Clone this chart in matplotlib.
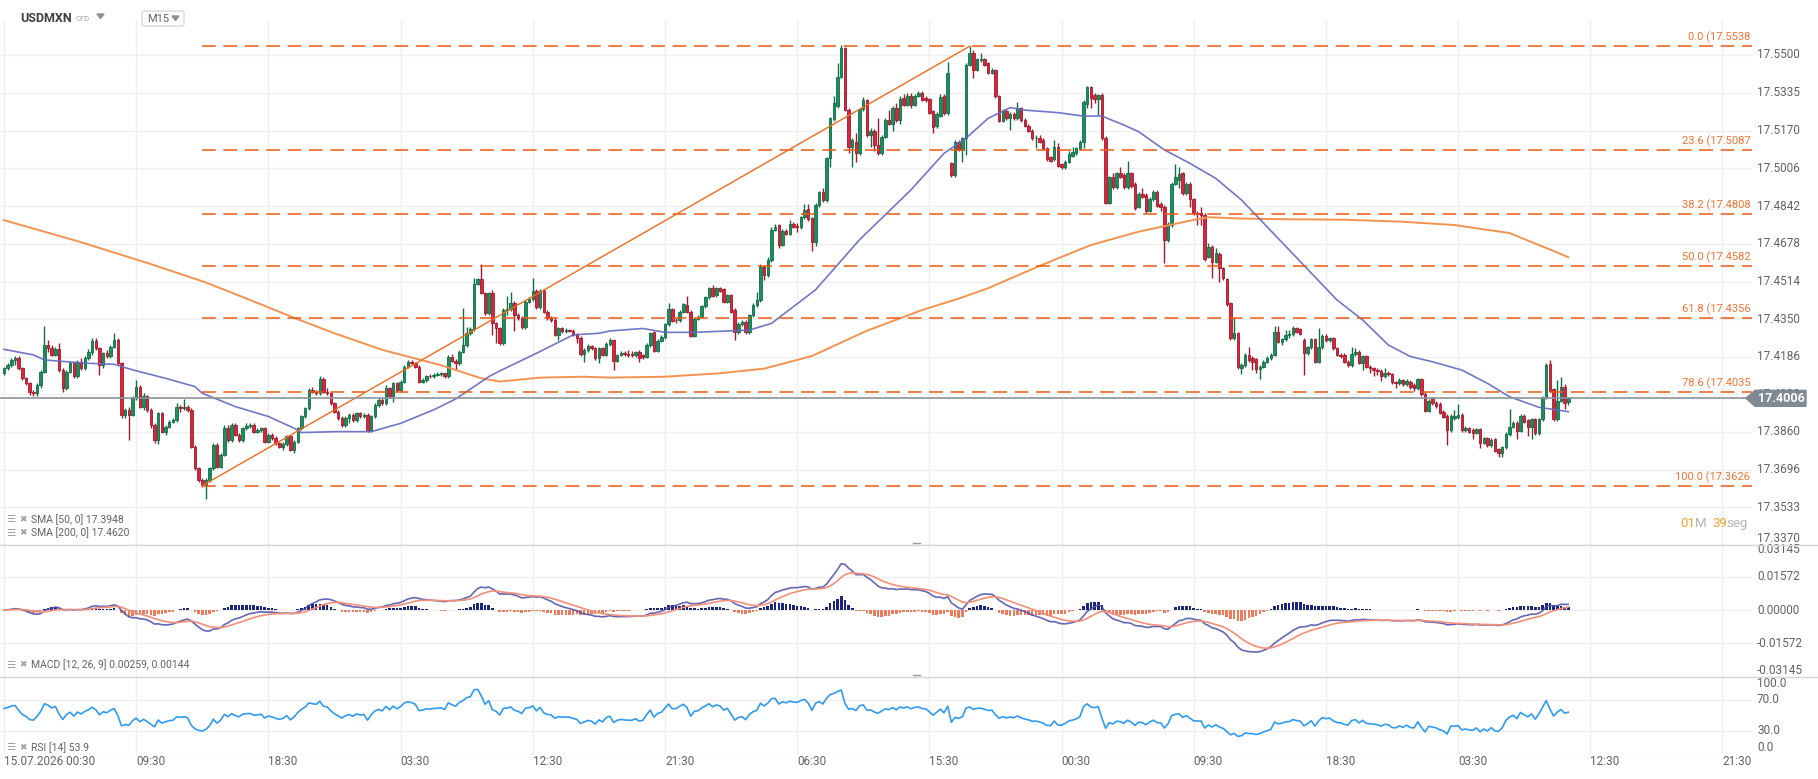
import matplotlib.pyplot as plt
import numpy as np
from matplotlib.collections import LineCollection, PatchCollection
from matplotlib.patches import Rectangle, Polygon, FancyBboxPatch

plt.rcParams['font.family'] = ['Roboto', 'DejaVu Sans']

# ---- USDMXN M15 candles ----
opens = [
    17.4115, 17.4137, 17.4151, 17.4173, 17.4180, 17.4137, 17.4093, 17.4072, 17.4035, 17.4028,
    17.4064, 17.4122, 17.4238, 17.4224, 17.4195, 17.4219, 17.4130, 17.4050, 17.4122, 17.4159,
    17.4101, 17.4166, 17.4137, 17.4180, 17.4209, 17.4257, 17.4224, 17.4151, 17.4202, 17.4188,
    17.4231, 17.4260, 17.4159, 17.3934, 17.3956, 17.3934, 17.4006, 17.4054, 17.3970, 17.4014,
    17.3956, 17.3890, 17.3825, 17.3941, 17.3861, 17.3883, 17.3905, 17.3912, 17.3970, 17.3963,
    17.3970, 17.3956, 17.3796, 17.3702, 17.3651, 17.3629, 17.3651, 17.3702, 17.3803, 17.3709,
    17.3760, 17.3876, 17.3825, 17.3890, 17.3847, 17.3825, 17.3876, 17.3886, 17.3890, 17.3861,
    17.3866, 17.3876, 17.3818, 17.3847, 17.3832, 17.3811, 17.3796, 17.3808, 17.3840, 17.3782,
    17.3818, 17.3876, 17.3927, 17.3963, 17.4043, 17.4035, 17.4028, 17.4090, 17.4035, 17.4030,
    17.3984, 17.3948, 17.3919, 17.3890, 17.3919, 17.3934, 17.3912, 17.3941, 17.3927, 17.3934,
    17.3866, 17.3927, 17.3977, 17.3999, 17.3984, 17.4050, 17.4014, 17.4072, 17.4043, 17.4079,
    17.4144, 17.4166, 17.4159, 17.4144, 17.4079, 17.4086, 17.4103, 17.4101, 17.4108, 17.4112,
    17.4115, 17.4103, 17.4185, 17.4170, 17.4159, 17.4209, 17.4238, 17.4289, 17.4306, 17.4504,
    17.4524, 17.4466, 17.4376, 17.4463, 17.4333, 17.4311, 17.4245, 17.4391, 17.4395, 17.4422,
    17.4369, 17.4354, 17.4315, 17.4427, 17.4437, 17.4475, 17.4402, 17.4475, 17.4383, 17.4354,
    17.4347, 17.4282, 17.4311, 17.4299, 17.4303, 17.4301, 17.4282, 17.4267, 17.4199, 17.4217,
    17.4235, 17.4224, 17.4180, 17.4224, 17.4195, 17.4243, 17.4259, 17.4170, 17.4194, 17.4204,
    17.4197, 17.4200, 17.4193, 17.4207, 17.4196, 17.4187, 17.4238, 17.4293, 17.4213, 17.4257,
    17.4271, 17.4329, 17.4393, 17.4348, 17.4346, 17.4383, 17.4412, 17.4383, 17.4278, 17.4352,
    17.4361, 17.4407, 17.4445, 17.4484, 17.4455, 17.4484, 17.4481, 17.4426, 17.4455, 17.4390,
    17.4293, 17.4329, 17.4339, 17.4293, 17.4368, 17.4412, 17.4433, 17.4579, 17.4543, 17.4609,
    17.4739, 17.4758, 17.4674, 17.4735, 17.4722, 17.4765, 17.4756, 17.4751, 17.4794, 17.4829,
    17.4790, 17.4688, 17.4848, 17.4903, 17.4867, 17.5051, 17.5220, 17.5276, 17.5406, 17.5529,
    17.5261, 17.5101, 17.5123, 17.5072, 17.5264, 17.5302, 17.5152, 17.5170, 17.5109, 17.5072,
    17.5145, 17.5218, 17.5200, 17.5268, 17.5215, 17.5312, 17.5283, 17.5322, 17.5283, 17.5322,
    17.5334, 17.5312, 17.5307, 17.5254, 17.5189, 17.5235, 17.5322, 17.5247, 17.5029, 17.4978,
    17.5123, 17.5087, 17.5138, 17.5457, 17.5510, 17.5435, 17.5476, 17.5481, 17.5464, 17.5423,
    17.5435, 17.5321, 17.5214, 17.5258, 17.5224, 17.5243, 17.5224, 17.5268, 17.5217, 17.5191,
    17.5171, 17.5137, 17.5140, 17.5130, 17.5094, 17.5054, 17.5047, 17.5101, 17.5025, 17.5011,
    17.5036, 17.5060, 17.5072, 17.5094, 17.5123, 17.5285, 17.5359, 17.5326, 17.5307, 17.5326,
    17.5140, 17.4857, 17.4968, 17.4924, 17.4985, 17.4978, 17.4924, 17.4985, 17.4939, 17.4840,
    17.4895, 17.4891, 17.4823, 17.4872, 17.4905, 17.4851, 17.4840, 17.4695, 17.4760, 17.4939,
    17.4956, 17.4985, 17.4898, 17.4939, 17.4872, 17.4814, 17.4811, 17.4804, 17.4623, 17.4666,
    17.4601, 17.4634, 17.4572, 17.4524, 17.4420, 17.4267, 17.4289, 17.4137, 17.4151, 17.4195,
    17.4180, 17.4176, 17.4132, 17.4144, 17.4166, 17.4180, 17.4195, 17.4296, 17.4253, 17.4263,
    17.4282, 17.4284, 17.4311, 17.4306, 17.4260, 17.4205, 17.4228, 17.4263, 17.4166, 17.4228,
    17.4277, 17.4260, 17.4267, 17.4224, 17.4195, 17.4195, 17.4166, 17.4151, 17.4199, 17.4209,
    17.4161, 17.4188, 17.4144, 17.4137, 17.4130, 17.4125, 17.4103, 17.4118, 17.4112, 17.4076,
    17.4072, 17.4085, 17.4067, 17.4078, 17.4064, 17.4049, 17.4088, 17.4025, 17.3952, 17.4006,
    17.3987, 17.3981, 17.3948, 17.3929, 17.3868, 17.3919, 17.3925, 17.3933, 17.3868, 17.3875,
    17.3868, 17.3856, 17.3871, 17.3813, 17.3832, 17.3803, 17.3827, 17.3784, 17.3769, 17.3793,
    17.3851, 17.3883, 17.3900, 17.3865, 17.3929, 17.3910, 17.3883, 17.3914, 17.3854, 17.3914,
    17.4010, 17.4155, 17.4045, 17.3914, 17.3996, 17.4054, 17.3991,
]
highs = [
    17.4144, 17.4159, 17.4180, 17.4190, 17.4188, 17.4144, 17.4098, 17.4079, 17.4043, 17.4072,
    17.4130, 17.4321, 17.4260, 17.4238, 17.4231, 17.4248, 17.4137, 17.4130, 17.4166, 17.4166,
    17.4173, 17.4180, 17.4188, 17.4219, 17.4267, 17.4267, 17.4231, 17.4209, 17.4215, 17.4238,
    17.4289, 17.4267, 17.4166, 17.3963, 17.3970, 17.4014, 17.4086, 17.4064, 17.4028, 17.4021,
    17.3963, 17.3897, 17.3948, 17.3948, 17.3890, 17.3912, 17.3920, 17.3984, 17.3977, 17.4003,
    17.3977, 17.3963, 17.3803, 17.3709, 17.3658, 17.3658, 17.3709, 17.3811, 17.3811, 17.3767,
    17.3890, 17.3890, 17.3897, 17.3897, 17.3854, 17.3883, 17.3897, 17.3897, 17.3897, 17.3876,
    17.3883, 17.3883, 17.3854, 17.3854, 17.3840, 17.3818, 17.3818, 17.3847, 17.3847, 17.3825,
    17.3883, 17.3934, 17.3970, 17.4050, 17.4054, 17.4043, 17.4101, 17.4098, 17.4050, 17.4035,
    17.3991, 17.3956, 17.3927, 17.3927, 17.3941, 17.3941, 17.3948, 17.3948, 17.3941, 17.3941,
    17.3934, 17.3984, 17.4006, 17.4006, 17.4064, 17.4057, 17.4079, 17.4079, 17.4086, 17.4151,
    17.4173, 17.4173, 17.4166, 17.4151, 17.4093, 17.4108, 17.4110, 17.4115, 17.4122, 17.4122,
    17.4118, 17.4195, 17.4199, 17.4177, 17.4217, 17.4398, 17.4318, 17.4315, 17.4528, 17.4530,
    17.4591, 17.4470, 17.4470, 17.4478, 17.4340, 17.4318, 17.4398, 17.4450, 17.4470, 17.4430,
    17.4376, 17.4362, 17.4434, 17.4445, 17.4528, 17.4482, 17.4482, 17.4482, 17.4391, 17.4362,
    17.4354, 17.4318, 17.4318, 17.4311, 17.4308, 17.4308, 17.4289, 17.4275, 17.4224, 17.4243,
    17.4240, 17.4231, 17.4231, 17.4231, 17.4250, 17.4270, 17.4262, 17.4199, 17.4210, 17.4210,
    17.4215, 17.4210, 17.4212, 17.4215, 17.4200, 17.4245, 17.4295, 17.4300, 17.4262, 17.4280,
    17.4335, 17.4420, 17.4400, 17.4355, 17.4390, 17.4420, 17.4450, 17.4390, 17.4359, 17.4368,
    17.4412, 17.4452, 17.4490, 17.4498, 17.4490, 17.4490, 17.4488, 17.4462, 17.4462, 17.4397,
    17.4336, 17.4346, 17.4346, 17.4375, 17.4420, 17.4470, 17.4590, 17.4586, 17.4620, 17.4750,
    17.4765, 17.4765, 17.4742, 17.4742, 17.4780, 17.4772, 17.4770, 17.4801, 17.4850, 17.4850,
    17.4797, 17.4855, 17.4910, 17.4920, 17.5058, 17.5232, 17.5320, 17.5464, 17.5545, 17.5536,
    17.5268, 17.5140, 17.5160, 17.5270, 17.5316, 17.5309, 17.5180, 17.5177, 17.5225, 17.5152,
    17.5225, 17.5260, 17.5280, 17.5290, 17.5320, 17.5330, 17.5334, 17.5334, 17.5330, 17.5345,
    17.5341, 17.5320, 17.5314, 17.5260, 17.5251, 17.5330, 17.5329, 17.5468, 17.5036, 17.5130,
    17.5130, 17.5145, 17.5464, 17.5538, 17.5522, 17.5488, 17.5510, 17.5488, 17.5471, 17.5445,
    17.5440, 17.5326, 17.5265, 17.5265, 17.5250, 17.5250, 17.5297, 17.5275, 17.5224, 17.5200,
    17.5178, 17.5150, 17.5150, 17.5137, 17.5101, 17.5060, 17.5130, 17.5116, 17.5030, 17.5043,
    17.5080, 17.5101, 17.5101, 17.5130, 17.5304, 17.5365, 17.5365, 17.5333, 17.5330, 17.5333,
    17.5147, 17.4975, 17.4985, 17.4992, 17.5011, 17.4985, 17.5040, 17.4992, 17.4946, 17.4902,
    17.4920, 17.4898, 17.4880, 17.4912, 17.4912, 17.4858, 17.4847, 17.4772, 17.4946, 17.5026,
    17.5011, 17.4992, 17.4946, 17.4946, 17.4879, 17.4820, 17.4840, 17.4811, 17.4680, 17.4673,
    17.4660, 17.4641, 17.4579, 17.4531, 17.4427, 17.4354, 17.4296, 17.4160, 17.4202, 17.4231,
    17.4188, 17.4183, 17.4150, 17.4173, 17.4188, 17.4202, 17.4320, 17.4320, 17.4270, 17.4305,
    17.4305, 17.4320, 17.4318, 17.4311, 17.4267, 17.4235, 17.4270, 17.4270, 17.4311, 17.4284,
    17.4284, 17.4274, 17.4274, 17.4231, 17.4202, 17.4202, 17.4173, 17.4231, 17.4224, 17.4216,
    17.4195, 17.4195, 17.4151, 17.4144, 17.4137, 17.4132, 17.4137, 17.4125, 17.4118, 17.4083,
    17.4095, 17.4090, 17.4088, 17.4085, 17.4071, 17.4095, 17.4095, 17.4032, 17.4003, 17.4013,
    17.3994, 17.3988, 17.3955, 17.3936, 17.3936, 17.3955, 17.3981, 17.3940, 17.3885, 17.3882,
    17.3875, 17.3878, 17.3878, 17.3839, 17.3839, 17.3832, 17.3834, 17.3791, 17.3800, 17.3858,
    17.3960, 17.3907, 17.3907, 17.3936, 17.3936, 17.3917, 17.3921, 17.3921, 17.3921, 17.4017,
    17.4158, 17.4173, 17.4052, 17.4085, 17.4100, 17.4070, 17.4013,
]
lows = [
    17.4108, 17.4130, 17.4144, 17.4151, 17.4130, 17.4086, 17.4064, 17.4021, 17.4014, 17.4014,
    17.4050, 17.4115, 17.4209, 17.4188, 17.4188, 17.4122, 17.4035, 17.4043, 17.4115, 17.4093,
    17.4093, 17.4130, 17.4130, 17.4173, 17.4195, 17.4215, 17.4108, 17.4137, 17.4180, 17.4180,
    17.4224, 17.4151, 17.3919, 17.3920, 17.3825, 17.3927, 17.3999, 17.3963, 17.3956, 17.3948,
    17.3876, 17.3811, 17.3808, 17.3854, 17.3847, 17.3876, 17.3897, 17.3905, 17.3948, 17.3956,
    17.3948, 17.3789, 17.3695, 17.3644, 17.3622, 17.3567, 17.3644, 17.3695, 17.3702, 17.3702,
    17.3753, 17.3818, 17.3818, 17.3840, 17.3818, 17.3818, 17.3868, 17.3876, 17.3854, 17.3854,
    17.3861, 17.3811, 17.3811, 17.3825, 17.3803, 17.3789, 17.3782, 17.3800, 17.3775, 17.3767,
    17.3811, 17.3868, 17.3919, 17.3956, 17.4028, 17.4021, 17.4021, 17.4028, 17.4021, 17.3977,
    17.3941, 17.3912, 17.3883, 17.3883, 17.3897, 17.3905, 17.3905, 17.3920, 17.3919, 17.3858,
    17.3858, 17.3919, 17.3970, 17.3977, 17.3977, 17.4006, 17.3991, 17.4035, 17.4035, 17.4072,
    17.4137, 17.4151, 17.4137, 17.4072, 17.4072, 17.4079, 17.4093, 17.4093, 17.4101, 17.4103,
    17.4096, 17.4096, 17.4163, 17.4130, 17.4151, 17.4202, 17.4231, 17.4282, 17.4299, 17.4497,
    17.4460, 17.4369, 17.4369, 17.4282, 17.4245, 17.4238, 17.4238, 17.4370, 17.4388, 17.4300,
    17.4347, 17.4308, 17.4308, 17.4420, 17.4430, 17.4395, 17.4395, 17.4376, 17.4347, 17.4340,
    17.4275, 17.4260, 17.4292, 17.4292, 17.4295, 17.4275, 17.4245, 17.4192, 17.4166, 17.4209,
    17.4217, 17.4173, 17.4159, 17.4188, 17.4188, 17.4235, 17.4129, 17.4163, 17.4190, 17.4192,
    17.4187, 17.4187, 17.4187, 17.4163, 17.4175, 17.4180, 17.4231, 17.4207, 17.4207, 17.4250,
    17.4264, 17.4322, 17.4337, 17.4335, 17.4339, 17.4376, 17.4376, 17.4271, 17.4271, 17.4345,
    17.4355, 17.4400, 17.4438, 17.4445, 17.4448, 17.4468, 17.4419, 17.4419, 17.4376, 17.4259,
    17.4286, 17.4322, 17.4286, 17.4286, 17.4361, 17.4405, 17.4426, 17.4520, 17.4536, 17.4601,
    17.4732, 17.4660, 17.4667, 17.4715, 17.4715, 17.4746, 17.4730, 17.4744, 17.4787, 17.4778,
    17.4645, 17.4667, 17.4840, 17.4860, 17.4860, 17.5014, 17.5213, 17.5268, 17.5399, 17.5254,
    17.5072, 17.5014, 17.5036, 17.5065, 17.5257, 17.5145, 17.5101, 17.5080, 17.5065, 17.5065,
    17.5138, 17.5193, 17.5170, 17.5207, 17.5200, 17.5276, 17.5276, 17.5268, 17.5276, 17.5315,
    17.5298, 17.5295, 17.5242, 17.5160, 17.5182, 17.5228, 17.5240, 17.5240, 17.4970, 17.4970,
    17.5080, 17.5036, 17.5065, 17.5450, 17.5400, 17.5428, 17.5470, 17.5450, 17.5416, 17.5416,
    17.5311, 17.5207, 17.5207, 17.5217, 17.5173, 17.5217, 17.5217, 17.5210, 17.5185, 17.5164,
    17.5130, 17.5094, 17.5116, 17.5087, 17.5040, 17.5033, 17.5040, 17.5011, 17.5004, 17.5004,
    17.5030, 17.5055, 17.5065, 17.5087, 17.5094, 17.5270, 17.5270, 17.5290, 17.5240, 17.5130,
    17.4850, 17.4850, 17.4917, 17.4917, 17.4963, 17.4917, 17.4917, 17.4923, 17.4826, 17.4833,
    17.4877, 17.4811, 17.4816, 17.4865, 17.4837, 17.4820, 17.4594, 17.4688, 17.4753, 17.4932,
    17.4920, 17.4891, 17.4891, 17.4840, 17.4804, 17.4760, 17.4760, 17.4604, 17.4616, 17.4528,
    17.4594, 17.4510, 17.4521, 17.4408, 17.4260, 17.4260, 17.4134, 17.4110, 17.4144, 17.4166,
    17.4130, 17.4115, 17.4090, 17.4137, 17.4159, 17.4173, 17.4188, 17.4246, 17.4238, 17.4256,
    17.4270, 17.4277, 17.4289, 17.4280, 17.4108, 17.4195, 17.4220, 17.4159, 17.4159, 17.4220,
    17.4253, 17.4253, 17.4217, 17.4188, 17.4183, 17.4159, 17.4144, 17.4144, 17.4190, 17.4154,
    17.4130, 17.4137, 17.4115, 17.4101, 17.4108, 17.4083, 17.4096, 17.4105, 17.4069, 17.4050,
    17.4064, 17.4060, 17.4060, 17.4047, 17.4040, 17.4042, 17.4018, 17.3945, 17.3945, 17.3977,
    17.3965, 17.3936, 17.3919, 17.3803, 17.3861, 17.3910, 17.3918, 17.3861, 17.3860, 17.3854,
    17.3830, 17.3849, 17.3790, 17.3806, 17.3796, 17.3796, 17.3771, 17.3752, 17.3750, 17.3786,
    17.3844, 17.3876, 17.3830, 17.3858, 17.3897, 17.3840, 17.3830, 17.3847, 17.3847, 17.3907,
    17.4003, 17.4032, 17.3907, 17.3907, 17.3989, 17.3960, 17.3975,
]
closes = [
    17.4137, 17.4151, 17.4173, 17.4180, 17.4137, 17.4093, 17.4072, 17.4035, 17.4028, 17.4064,
    17.4122, 17.4238, 17.4224, 17.4195, 17.4219, 17.4130, 17.4050, 17.4122, 17.4159, 17.4101,
    17.4166, 17.4137, 17.4180, 17.4209, 17.4257, 17.4224, 17.4151, 17.4202, 17.4188, 17.4231,
    17.4260, 17.4159, 17.3934, 17.3956, 17.3934, 17.4006, 17.4054, 17.3970, 17.4014, 17.3956,
    17.3890, 17.3825, 17.3941, 17.3861, 17.3883, 17.3905, 17.3912, 17.3970, 17.3963, 17.3970,
    17.3956, 17.3796, 17.3702, 17.3651, 17.3629, 17.3651, 17.3702, 17.3803, 17.3709, 17.3760,
    17.3876, 17.3825, 17.3890, 17.3847, 17.3825, 17.3876, 17.3886, 17.3890, 17.3861, 17.3866,
    17.3876, 17.3818, 17.3847, 17.3832, 17.3811, 17.3796, 17.3808, 17.3840, 17.3782, 17.3818,
    17.3876, 17.3927, 17.3963, 17.4043, 17.4035, 17.4028, 17.4090, 17.4035, 17.4030, 17.3984,
    17.3948, 17.3919, 17.3890, 17.3919, 17.3934, 17.3912, 17.3941, 17.3927, 17.3934, 17.3866,
    17.3927, 17.3977, 17.3999, 17.3984, 17.4050, 17.4014, 17.4072, 17.4043, 17.4079, 17.4144,
    17.4166, 17.4159, 17.4144, 17.4079, 17.4086, 17.4103, 17.4101, 17.4108, 17.4112, 17.4115,
    17.4103, 17.4185, 17.4170, 17.4159, 17.4209, 17.4238, 17.4289, 17.4306, 17.4504, 17.4524,
    17.4466, 17.4376, 17.4463, 17.4333, 17.4311, 17.4245, 17.4391, 17.4395, 17.4422, 17.4369,
    17.4354, 17.4315, 17.4427, 17.4437, 17.4475, 17.4402, 17.4475, 17.4383, 17.4354, 17.4347,
    17.4282, 17.4311, 17.4299, 17.4303, 17.4301, 17.4282, 17.4267, 17.4199, 17.4217, 17.4235,
    17.4224, 17.4180, 17.4224, 17.4195, 17.4243, 17.4260, 17.4170, 17.4194, 17.4204, 17.4197,
    17.4193, 17.4193, 17.4207, 17.4180, 17.4187, 17.4238, 17.4289, 17.4213, 17.4257, 17.4271,
    17.4329, 17.4393, 17.4344, 17.4346, 17.4383, 17.4415, 17.4383, 17.4278, 17.4352, 17.4361,
    17.4407, 17.4445, 17.4484, 17.4451, 17.4484, 17.4474, 17.4426, 17.4455, 17.4383, 17.4293,
    17.4329, 17.4339, 17.4293, 17.4368, 17.4412, 17.4433, 17.4579, 17.4543, 17.4609, 17.4739,
    17.4753, 17.4674, 17.4735, 17.4722, 17.4765, 17.4753, 17.4751, 17.4794, 17.4826, 17.4785,
    17.4688, 17.4848, 17.4903, 17.4867, 17.5051, 17.5225, 17.5290, 17.5406, 17.5529, 17.5261,
    17.5101, 17.5130, 17.5072, 17.5264, 17.5302, 17.5152, 17.5167, 17.5109, 17.5072, 17.5145,
    17.5218, 17.5200, 17.5268, 17.5215, 17.5307, 17.5283, 17.5322, 17.5283, 17.5322, 17.5334,
    17.5305, 17.5302, 17.5249, 17.5186, 17.5244, 17.5316, 17.5247, 17.5420, 17.4978, 17.5123,
    17.5087, 17.5138, 17.5457, 17.5510, 17.5435, 17.5481, 17.5481, 17.5457, 17.5423, 17.5435,
    17.5321, 17.5214, 17.5258, 17.5224, 17.5243, 17.5224, 17.5268, 17.5217, 17.5191, 17.5171,
    17.5137, 17.5140, 17.5123, 17.5094, 17.5047, 17.5040, 17.5101, 17.5018, 17.5011, 17.5036,
    17.5068, 17.5079, 17.5094, 17.5123, 17.5297, 17.5359, 17.5314, 17.5307, 17.5326, 17.5137,
    17.4857, 17.4968, 17.4924, 17.4985, 17.4970, 17.4924, 17.4985, 17.4930, 17.4833, 17.4895,
    17.4884, 17.4823, 17.4872, 17.4905, 17.4844, 17.4840, 17.4695, 17.4765, 17.4939, 17.4968,
    17.4982, 17.4898, 17.4939, 17.4872, 17.4811, 17.4808, 17.4804, 17.4611, 17.4663, 17.4601,
    17.4640, 17.4572, 17.4528, 17.4415, 17.4267, 17.4289, 17.4141, 17.4151, 17.4195, 17.4173,
    17.4166, 17.4132, 17.4144, 17.4166, 17.4180, 17.4195, 17.4296, 17.4253, 17.4263, 17.4282,
    17.4284, 17.4311, 17.4296, 17.4286, 17.4205, 17.4228, 17.4263, 17.4166, 17.4228, 17.4277,
    17.4260, 17.4267, 17.4224, 17.4195, 17.4190, 17.4166, 17.4151, 17.4199, 17.4209, 17.4161,
    17.4188, 17.4144, 17.4137, 17.4130, 17.4125, 17.4103, 17.4118, 17.4112, 17.4076, 17.4072,
    17.4085, 17.4067, 17.4081, 17.4054, 17.4049, 17.4088, 17.4025, 17.3952, 17.3996, 17.3984,
    17.3972, 17.3943, 17.3926, 17.3868, 17.3929, 17.3929, 17.3933, 17.3868, 17.3875, 17.3861,
    17.3856, 17.3871, 17.3813, 17.3832, 17.3803, 17.3825, 17.3778, 17.3769, 17.3793, 17.3851,
    17.3883, 17.3900, 17.3865, 17.3929, 17.3904, 17.3883, 17.3914, 17.3854, 17.3914, 17.4010,
    17.4151, 17.4039, 17.3914, 17.3996, 17.4054, 17.3987, 17.4006,
]

# moving averages as drawn by the platform (bar index, value)
sma50_bars = [0, 8, 11, 22, 30, 35, 44, 52, 54, 63, 72, 79, 81, 90, 100, 108, 117, 123,
              132, 135, 145, 155, 162, 165, 174, 180, 188, 197, 203, 209, 221, 233, 247,
              256, 262, 268, 274, 278, 287, 294, 299, 305, 309, 316, 323, 330, 337, 345,
              355, 363, 370, 377, 383, 389, 397, 404, 410, 418, 426]
sma50_vals = [17.4219, 17.4195, 17.4173, 17.4159, 17.4154, 17.4130, 17.4093, 17.4057,
              17.4028, 17.3970, 17.3927, 17.3876, 17.3857, 17.3861, 17.3861, 17.3897,
              17.3956, 17.4003, 17.4100, 17.4125, 17.4202, 17.4282, 17.4289, 17.4299,
              17.4310, 17.4293, 17.4293, 17.4299, 17.4303, 17.4332, 17.4478, 17.4696,
              17.4913, 17.5072, 17.5138, 17.5224, 17.5271, 17.5260, 17.5249, 17.5234,
              17.5234, 17.5195, 17.5166, 17.5087, 17.5028, 17.4963, 17.4869, 17.4735,
              17.4568, 17.4434, 17.4347, 17.4238, 17.4188, 17.4165, 17.4129, 17.4071,
              17.4013, 17.3967, 17.3948]
sma200_bars = [0, 20, 40, 55, 67, 80, 90, 103, 119, 130, 135, 146, 158, 165, 180, 195,
               207, 220, 235, 250, 260, 268, 282, 296, 309, 323, 328, 337, 350, 365, 380,
               395, 410, 420, 426]
sma200_vals = [17.4781, 17.4690, 17.4590, 17.4510, 17.4434, 17.4350, 17.4289, 17.4217,
               17.4150, 17.4093, 17.4079, 17.4096, 17.4100, 17.4096, 17.4100, 17.4115,
               17.4135, 17.4190, 17.4300, 17.4390, 17.4440, 17.4485, 17.4582, 17.4673,
               17.4731, 17.4779, 17.4794, 17.4788, 17.4785, 17.4783, 17.4775, 17.4760,
               17.4725, 17.4660, 17.4620]

# fibonacci retracement drawn between bar 54 (low) and bar 263 (high)
fib_bars = (54, 263)
fib_low, fib_high = 17.3626, 17.5538
fib_levels = [0.0, 23.6, 38.2, 50.0, 61.8, 78.6, 100.0]
last_price = 17.4006

time_labels = ["15.07.2026 00:30", "09:30", "18:30", "03:30", "12:30", "21:30", "06:30",
               "15:30", "00:30", "09:30", "18:30", "03:30", "12:30", "21:30"]
bars_per_label = 36
price_ticks = [17.3370, 17.3533, 17.3696, 17.3860, 17.4023, 17.4186, 17.4350, 17.4514,
               17.4678, 17.4842, 17.5006, 17.5170, 17.5335, 17.5500]
macd_ticks = [0.03145, 0.01572, 0.0, -0.01572, -0.03145]
rsi_ticks = [100.0, 70.0, 30.0, 0.0]

# ---- layout (pixels of a 1818x779 canvas) ----
W, H = 1818, 779
BAR_PX, X0_PX, RIGHT_PX = 3.672, 4.0, 1752
PRICE_TOP, PRICE_BOTTOM = 20, 544.5
PRICE_LIM = (17.3370, 17.5652)
GRID = '#efefef'
LABEL = '#5f6368'


def px_axes(fig, top, bottom, left=0, right=RIGHT_PX):
    ax = fig.add_axes([left / W, 1 - bottom / H, (right - left) / W, (bottom - top) / H])
    ax.set_xlim(-X0_PX / BAR_PX, (right - X0_PX) / BAR_PX)
    ax.set_xticks([])
    ax.set_yticks([])
    for s in ax.spines.values():
        s.set_visible(False)
    ax.patch.set_visible(False)
    return ax


def ema(values, n):
    alpha = 2.0 / (n + 1)
    out = np.empty_like(values)
    out[0] = values[0]
    for k in range(1, len(values)):
        out[k] = out[k - 1] + alpha * (values[k] - out[k - 1])
    return out


def rsi(values, n=14):
    diff = np.diff(values)
    gain, loss = np.clip(diff, 0, None), np.clip(-diff, 0, None)
    ag, al = gain[:n].mean(), loss[:n].mean()
    out = [100 * ag / (ag + al)]
    for g, lo in zip(gain, loss):
        ag += (g - ag) / n
        al += (lo - al) / n
        out.append(100 * ag / (ag + al))
    return np.array(out)


def y_labels(ax, ticks, fmt):
    tr = ax.get_yaxis_transform()
    lo, hi = ax.get_ylim()
    for t in ticks:
        va = 'center'
        if abs(t - lo) < 1e-9:
            va = 'bottom'
        elif abs(t - hi) < 1e-9:
            va = 'top'
        ax.text(1 + 5 / RIGHT_PX, t, fmt.format(t), transform=tr, ha='left', va=va,
                fontsize=8.5, color=LABEL, clip_on=False)


o, h, l, c = (np.array(v) for v in (opens, highs, lows, closes))
idx = np.arange(len(c))

fig = plt.figure(figsize=(W / 100, H / 100), dpi=100, facecolor='white')

# ---- price panel ----
ax = px_axes(fig, PRICE_TOP, PRICE_BOTTOM)
ax.set_ylim(*PRICE_LIM)
for t in price_ticks:
    ax.axhline(t, color=GRID, lw=1, zorder=0)
for k in range(len(time_labels)):
    ax.axvline(k * bars_per_label, color=GRID, lw=1, zorder=0)
y_labels(ax, price_ticks, '{:.4f}')

up = c >= o
edge = np.where(up, '#0f6e44', '#a3192b')
face = np.where(up, '#1f8d5c', '#d7263d')
ax.add_collection(LineCollection([[(i, l[i]), (i, h[i])] for i in idx],
                                 colors=edge, linewidths=1.0, zorder=3))
bodies = [Rectangle((i - 0.34, min(o[i], c[i])), 0.68, max(abs(c[i] - o[i]), 0.00012))
          for i in idx]
ax.add_collection(PatchCollection(bodies, facecolors=face, edgecolors=edge,
                                  linewidths=0.6, zorder=4))

ax.plot(sma200_bars, sma200_vals, color='#f3934f', lw=1.4, zorder=5)
ax.plot(sma50_bars, sma50_vals, color='#6268c0', lw=1.2, alpha=0.9, zorder=5)

x_end = ax.get_xlim()[1]
for lev in fib_levels:
    p = fib_high - (fib_high - fib_low) * lev / 100
    ax.plot([fib_bars[0], x_end], [p, p], color='#ea5a12', lw=1.1,
            linestyle=(0, (9, 5)), zorder=6, solid_capstyle='butt')
    ax.annotate(f'{lev:.1f} ({p:.4f}', xy=(x_end - 0.5, p), xytext=(0, 2),
                textcoords='offset points', ha='right', va='bottom',
                fontsize=8, color='#f07234', zorder=7)
ax.plot(fib_bars, [fib_low, fib_high], color='#f26a1b', lw=1.0, zorder=6)
ax.axhline(last_price, color='#8a939b', lw=1.2, zorder=6)

# ---- MACD panel ----
axm = px_axes(fig, 543.3, 676.7)
axm.set_ylim(-0.03145, 0.03145)
macd = ema(c, 12) - ema(c, 26)
signal = ema(macd, 9)
hist = macd - signal
for t in (0.01572, 0.0, -0.01572):
    axm.axhline(t, color=GRID, lw=1, zorder=0)
for k in range(len(time_labels)):
    axm.axvline(k * bars_per_label, color=GRID, lw=1, zorder=0)
axm.bar(idx, hist, width=0.7, color=np.where(hist >= 0, '#1a237e', '#ec7a5c'), zorder=2)
axm.plot(idx, macd, color='#4b4ca6', lw=1.2, alpha=0.85, zorder=3)
axm.plot(idx, signal, color='#f2907a', lw=1.2, zorder=3)
y_labels(axm, macd_ticks, '{:.5f}')

# ---- RSI panel ----
axr = px_axes(fig, 676.7, 753.6)
axr.set_ylim(0, 100)
for t in (70, 30, 0):
    axr.axhline(t, color=GRID, lw=1, zorder=0)
for k in range(len(time_labels)):
    axr.axvline(k * bars_per_label, color=GRID, lw=1, zorder=0)
axr.plot(idx, rsi(c), color='#2f9bf2', lw=1.2, zorder=3)
y_labels(axr, rsi_ticks, '{:.1f}')
for k, lab in enumerate(time_labels):
    axr.text(k * bars_per_label, -0.105, lab, transform=axr.get_xaxis_transform(),
             ha='left', va='center', fontsize=8.5, color=LABEL, clip_on=False)

# ---- overlay in pixel coordinates (y down) ----
ov = fig.add_axes([0, 0, 1, 1], zorder=10)
ov.set_xlim(0, W)
ov.set_ylim(H, 0)
ov.axis('off')
ov.patch.set_visible(False)

for y in (544.5, 676.5):
    ov.plot([0, W], [y, y], color='#d6d6d6', lw=1)
    ov.plot([913, 920], [y - 1.5, y - 1.5], color='#9a9a9a', lw=1)

# header
ov.text(20, 18, 'USDMXN', fontsize=9, fontweight='bold', color='#3c4043', va='center')
ov.text(75, 19, 'CFD', fontsize=5.5, color='#9aa0a6', va='center')
ov.add_patch(Polygon([(97, 14), (104, 14), (100.5, 18.5)], color='#8a8f94'))
ov.add_patch(FancyBboxPatch((142, 11), 42, 15, boxstyle='round,pad=0,rounding_size=2',
                            facecolor='white', edgecolor='#d9d9d9', lw=1))
ov.text(147, 18.5, 'M15', fontsize=8, color='#5f6368', va='center')
ov.add_patch(Polygon([(172, 16), (179, 16), (175.5, 20.5)], color='#8a8f94'))

# indicator legends
icon_font = ['DejaVu Sans']
legends = [(519.5, 'SMA [50, 0] 17.3948'), (533, 'SMA [200, 0] 17.4620'),
           (665, 'MACD [12, 26, 9] 0.00259, 0.00144'), (747.5, 'RSI [14] 53.9')]
for y, txt in legends:
    ov.text(6, y, '\u2630', fontsize=7.5, color='#a0a0a0', va='center', family=icon_font)
    ov.text(19, y, '\u2716', fontsize=6.5, color='#a0a0a0', va='center', family=icon_font)
    ov.text(31, y, txt, fontsize=7.5, color='#5f6368', va='center')

# last price tag (drawn over the hidden axis label, as on the platform)
tag_y = PRICE_TOP + (PRICE_LIM[1] - last_price) * (PRICE_BOTTOM - PRICE_TOP) / (PRICE_LIM[1] - PRICE_LIM[0])
ov.add_patch(Polygon([(1746, tag_y), (1755, tag_y - 8), (1806, tag_y - 8),
                      (1806, tag_y + 8), (1755, tag_y + 8)], color='#7f8a92'))
ov.text(1758, tag_y, f'{last_price:.4f}', fontsize=9, fontweight='bold', color='white',
        va='center', ha='left')

# bar countdown
for x, txt, col in [(1680, '01', '#f5a030'), (1695, 'M', '#b5b5b5'),
                    (1712.5, '39', '#f5a030'), (1726.5, 'seg', '#b5b5b5')]:
    ov.text(x, 523.5, txt, fontsize=9.5, color=col, va='center', ha='left')

fig.savefig('out.png', dpi=100, facecolor='white')
